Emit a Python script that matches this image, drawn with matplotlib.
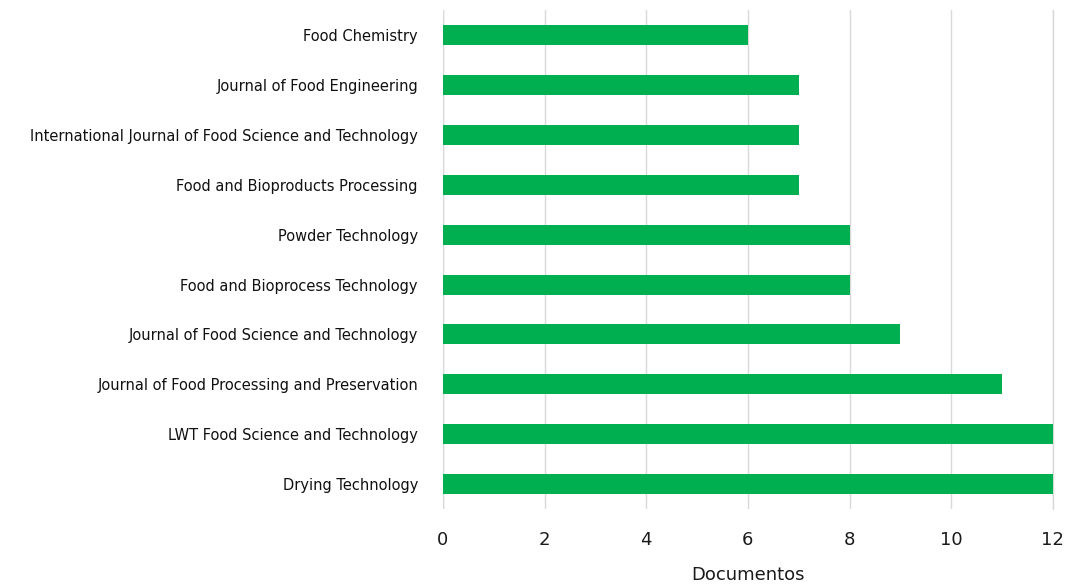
import matplotlib.pyplot as plt

# journals, top to bottom as in the picture
journals = [
    "Food Chemistry",
    "Journal of Food Engineering",
    "International Journal of Food Science and Technology",
    "Food and Bioproducts Processing",
    "Powder Technology",
    "Food and Bioprocess Technology",
    "Journal of Food Science and Technology",
    "Journal of Food Processing and Preservation",
    "LWT Food Science and Technology",
    "Drying Technology",
]
documentos = [6, 7, 7, 7, 8, 8, 9, 11, 12, 12]
x_ticks = [0, 2, 4, 6, 8, 10, 12]

fig = plt.figure(figsize=(10.7, 5.88), dpi=100)
ax = fig.add_axes([0.414, 0.134, 0.57, 0.849])

# reverse so the first journal sits at the top
ypos = list(range(len(journals)))[::-1]
ax.barh(ypos, documentos, height=0.4, color="#00B050", zorder=3)

ax.set_xlim(0, 12)
ax.set_ylim(-0.5, len(journals) - 0.5)
ax.set_xticks(x_ticks)
ax.set_xticklabels([str(t) for t in x_ticks], fontsize=13, color="#1a1a1a")
ax.set_yticks(ypos)
ax.set_yticklabels(journals, fontsize=10.5, color="#111111")
ax.tick_params(axis="both", length=0)
ax.tick_params(axis="x", pad=16)
ax.tick_params(axis="y", pad=18)

ax.grid(axis="x", color="#d9d9d9", linewidth=1, zorder=0)
for side in ["top", "right", "bottom", "left"]:
    ax.spines[side].set_visible(False)
ax.axvline(0, color="#d9d9d9", linewidth=1, zorder=1)
ax.axvline(12, color="#d9d9d9", linewidth=1, zorder=1, clip_on=False)

ax.set_xlabel("Documentos", fontsize=13, color="#1a1a1a", labelpad=12)

fig.savefig("out.png", dpi=100)
